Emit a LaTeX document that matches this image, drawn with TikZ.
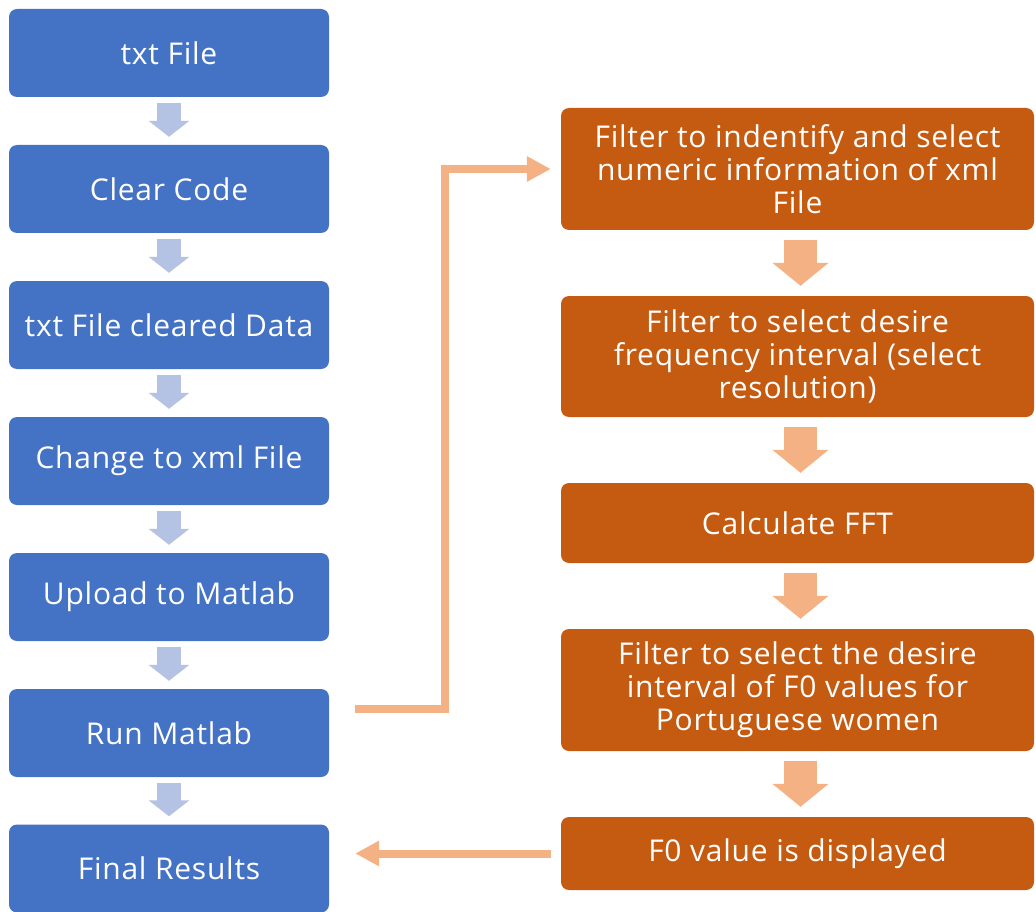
\documentclass[tikz,border=0pt]{standalone}
\usepackage{fontspec}
\setmainfont[LetterSpace=2.5]{Open Sans}
\usetikzlibrary{arrows.meta,calc}
\definecolor{bluebox}{HTML}{4472C4}
\definecolor{bluearr}{HTML}{B4C2E3}
\definecolor{orangebox}{HTML}{C55A11}
\definecolor{orangearr}{HTML}{F4B183}
\tikzset{
  leftbox/.style={fill=bluebox, rounded corners=8pt, minimum width=320pt, minimum height=88pt,
    text=white, font=\fontsize{30}{33}\selectfont, align=center, inner sep=0pt},
  rightbox/.style={fill=orangebox, rounded corners=8pt, minimum width=473pt,
    text=white, font=\fontsize{30}{33}\selectfont, align=center, inner sep=0pt},
  bluearrow/.style={draw=bluearr, line width=24pt, -{Triangle[length=16pt,width=40pt]}},
  orangearrow/.style={draw=orangearr, line width=33pt, -{Triangle[length=23pt,width=55pt]}},
  linkarrow/.style={draw=orangearr, line width=8pt, miter limit=10, line join=miter,
    -{Triangle[length=24pt,width=24pt]}},
}
\begin{document}
\begin{tikzpicture}[x=1pt,y=-1pt]
\useasboundingbox (0,0) rectangle (1036,912);
% left column
\node[leftbox] (b1) at (169,53) {txt File};
\node[leftbox] (b2) at (169,189) {Clear Code};
\node[leftbox] (b3) at (169,325) {txt File cleared Data};
\node[leftbox] (b4) at (169,461) {Change to xml File};
\node[leftbox] (b5) at (169,597) {Upload to Matlab};
\node[leftbox] (b6) at (169,733) {Run Matlab};
\node[leftbox] (b7) at (169,868.5) {Final Results};
\foreach \a/\b in {b1/b2,b2/b3,b3/b4,b4/b5,b5/b6,b6/b7}{
  \draw[bluearrow] ([yshift=-6pt]\a.south) -- ([yshift=8pt]\b.north);
}
% right column
\node[rightbox, minimum height=122pt] (r1) at (797.5,169) {Filter to indentify and select\\numeric information of xml\\File};
\node[rightbox, minimum height=121pt] (r2) at (797.5,356.5) {Filter to select desire\\frequency interval (select\\resolution)};
\node[rightbox, minimum height=80pt] (r3) at (797.5,523) {Calculate FFT};
\node[rightbox, minimum height=122pt] (r4) at (797.5,690) {Filter to select the desire\\interval of F0 values for\\Portuguese women};
\node[rightbox, minimum height=73pt] (r5) at (797.5,853.5) {F0 value is displayed};
\foreach \a/\b in {r1/r2,r2/r3,r3/r4,r4/r5}{
  \draw[orangearrow] ([xshift=3pt,yshift=-10pt]\a.south) -- ([xshift=3pt,yshift=10pt]\b.north);
}
% links
\coordinate (s1) at ($(b6.east)+(26,-24)$);
\coordinate (k1) at (445,709);
\draw[linkarrow] (s1) -- (k1) |- ([xshift=-10pt]r1.west);
\draw[linkarrow] ([xshift=-10pt]r5.west) -- ([xshift=26pt]b7.east |- r5.west);
\end{tikzpicture}
\end{document}
